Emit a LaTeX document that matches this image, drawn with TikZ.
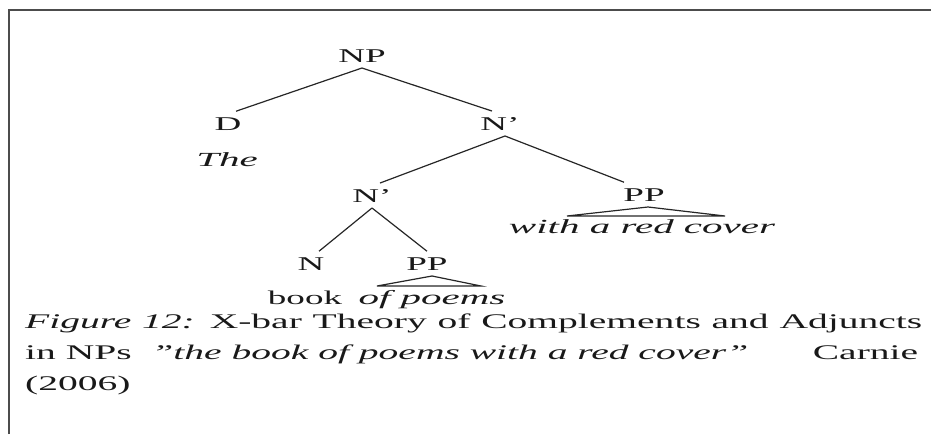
\documentclass[tikz,border=0pt]{standalone}
\usepackage{fontspec}
\setmainfont{Liberation Serif}[FakeStretch=1.9]
\newfontfamily\leaffont{Liberation Serif}[FakeStretch=2.05]
\begin{document}
\begin{tikzpicture}[x=1pt,y=-1pt,
  lab/.style={inner sep=0pt,outer sep=6pt,anchor=base,font=\fontsize{19.5}{22}\selectfont,text=black!90},
  leaf/.style={inner sep=0pt,anchor=base,font=\fontsize{20}{22}\leaffont\itshape,text=black!90},
  capline/.style={inner sep=0pt,anchor=base west,font=\fontsize{20.8}{24}\selectfont,text=black!90},
  branch/.style={draw=black!85,line width=1.2pt},
  tri/.style={draw=black!85,line width=1.2pt,line join=miter}]
\useasboundingbox (0,0) rectangle (931,434);
\draw[black!70,line width=2pt] (9,434) -- (9,10) -- (931,10);
% labels
\node[lab] (np) at (362,62) {NP};
\node[lab] (d) at (228,130) {D};
\node[leaf] (the) at (227,166) {The};
\node[lab] (nb1) at (500,130) {N’};
\node[lab] (nb2) at (372,202) {N’};
\node[lab] (ppr) at (644,201) {PP};
\node[leaf] (wrc) at (642,233) {with a red cover};
\node[lab] (n) at (311,270) {N};
\node[lab] (pp2) at (427,270) {PP};
\node[lab,outer sep=0pt] (book) at (305,304) {book};
\node[leaf] (ofp) at (432,304) {of poems};
% branches
\draw[branch] (np.south) -- ([xshift=8pt]d.north);
\draw[branch] (np.south) -- ([xshift=-8pt]nb1.north);
\draw[branch] ([xshift=5pt]nb1.south) -- ([xshift=8pt]nb2.north);
\draw[branch] ([xshift=5pt]nb1.south) -- ([xshift=-20pt]ppr.north);
\draw[branch] (nb2.south) -- ([xshift=8pt]n.north);
\draw[branch] (nb2.south) -- (pp2.north);
% triangles
\draw[tri] ([xshift=4pt]ppr.south) -- ++(-81,9) -- ++(158,0) -- cycle;
\draw[tri] ([xshift=5pt]pp2.south) -- ++(-55,10) -- ++(104,0) -- cycle;
% caption
\node[capline] (c1) at (25,328) {\hbox to 897pt{\textit{Figure 12:} X-bar Theory of Complements and Adjuncts}};
\node[capline] (c2) at (25,359) {\hbox to 893pt{in NPs\ \ \textit{''the book of poems with a red cover''}\hfill Carnie}};
\node[capline] (c3) at (25,390) {(2006)};
\end{tikzpicture}
\end{document}
